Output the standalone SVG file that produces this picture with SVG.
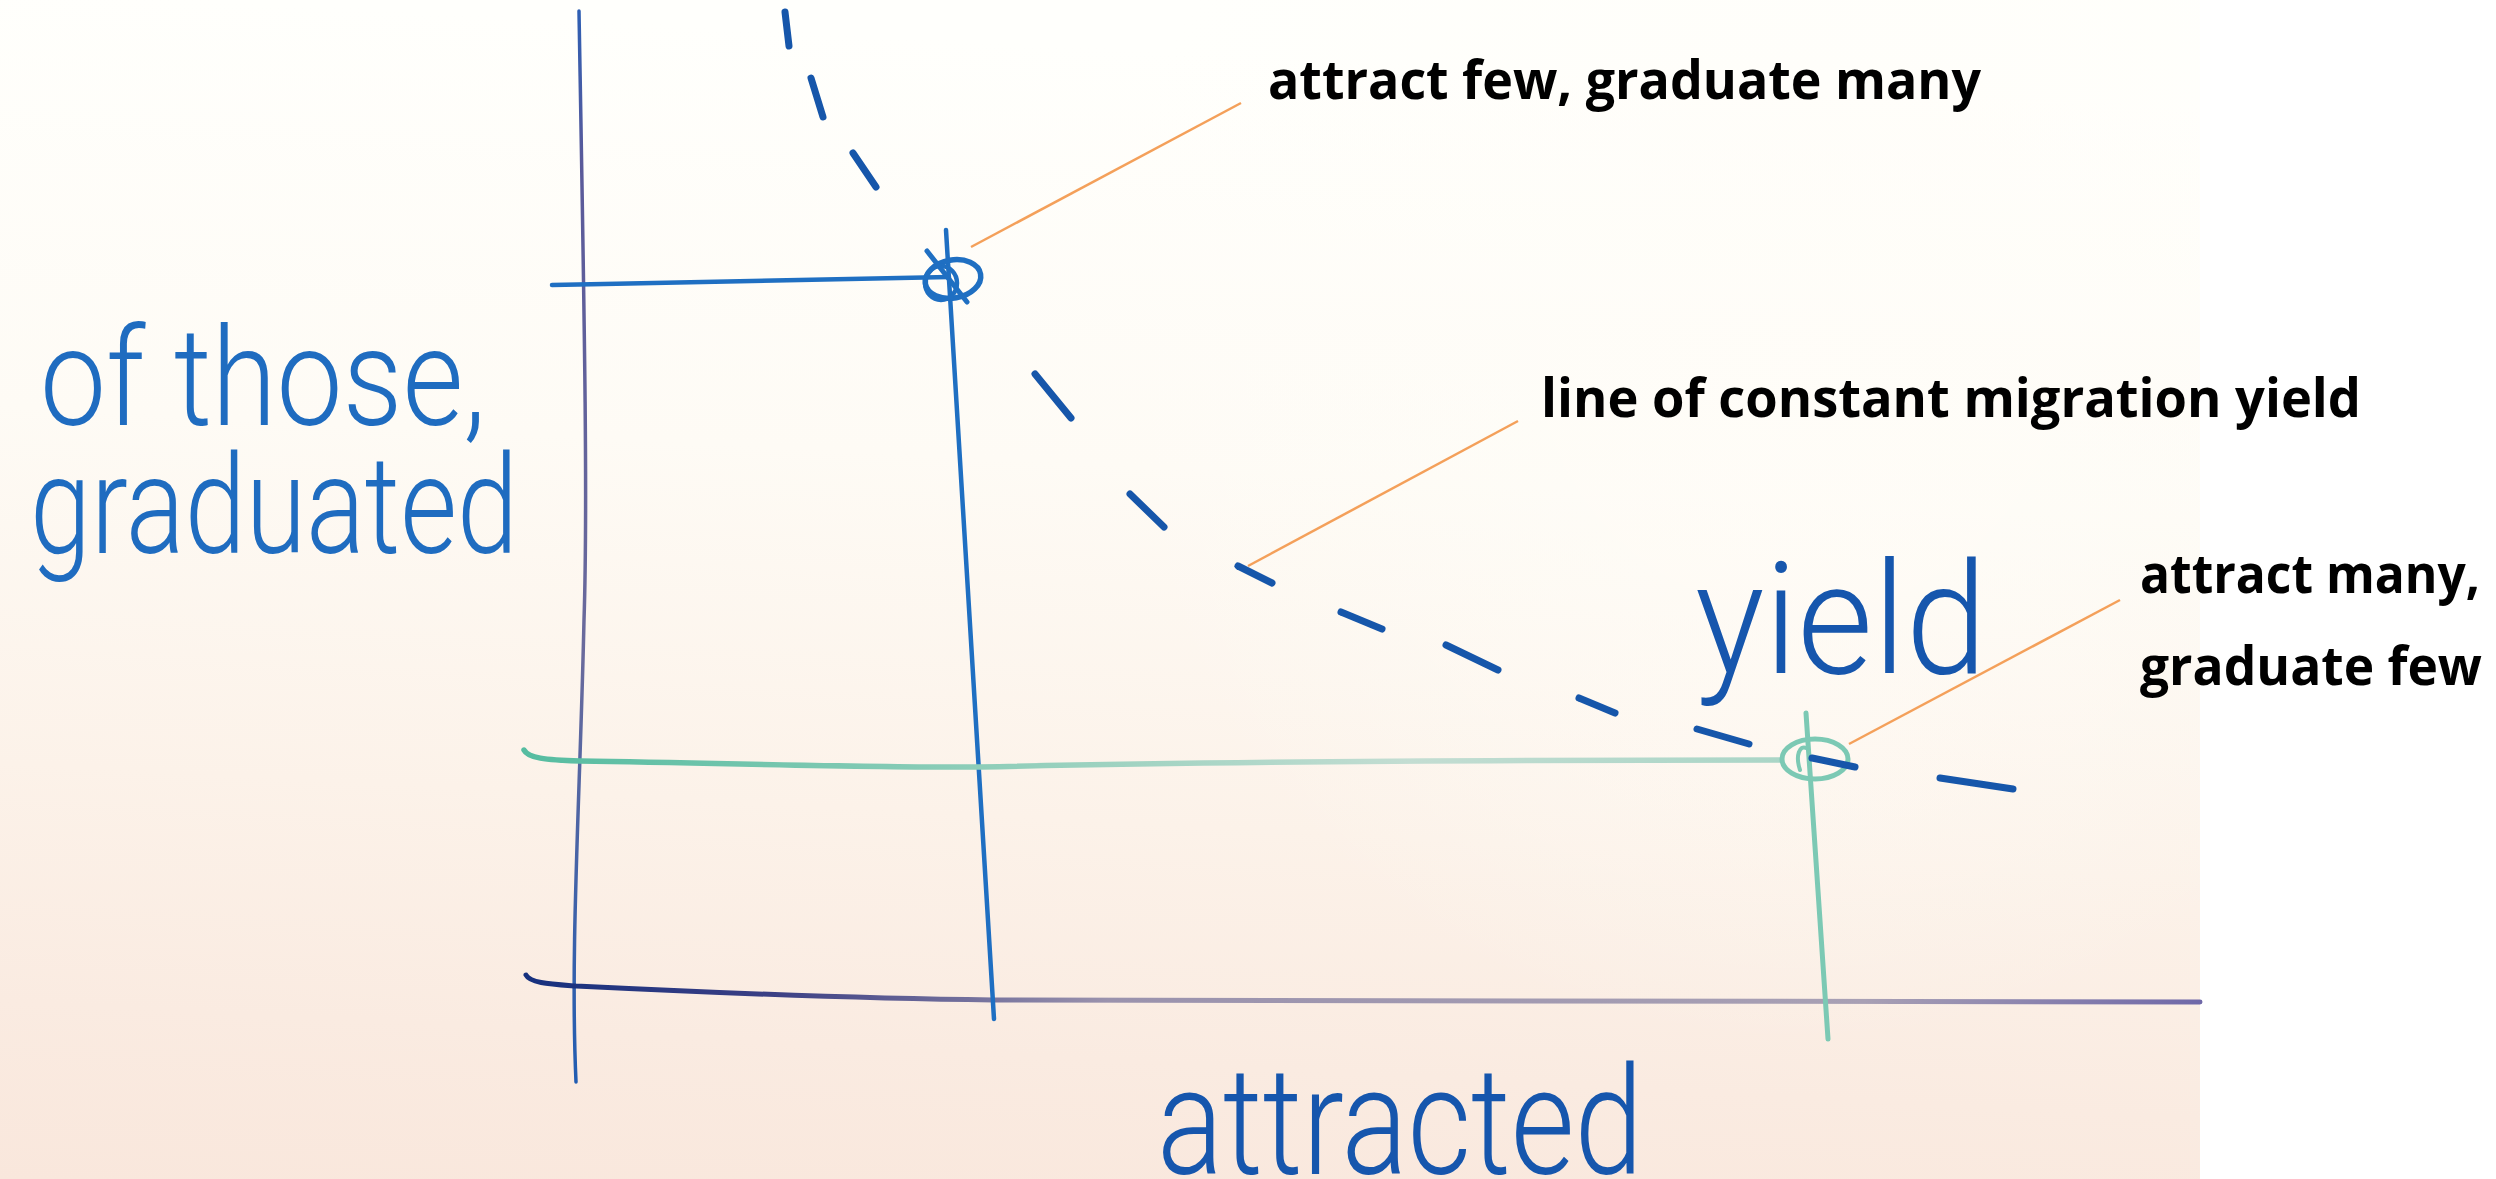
<svg xmlns="http://www.w3.org/2000/svg" width="2496" height="1179" viewBox="0 0 2496 1179">
  <defs>
    <linearGradient id="paper" x1="0.1" y1="0" x2="0" y2="1">
      <stop offset="0" stop-color="#fffffc"/>
      <stop offset="0.35" stop-color="#fefbf5"/>
      <stop offset="0.65" stop-color="#fcf2e9"/>
      <stop offset="0.85" stop-color="#faebe1"/>
      <stop offset="1" stop-color="#f9e7dc"/>
    </linearGradient>
    <radialGradient id="glow" cx="1800" cy="350" r="700" gradientUnits="userSpaceOnUse">
      <stop offset="0" stop-color="#fffdf8" stop-opacity="0.8"/>
      <stop offset="1" stop-color="#fffdf8" stop-opacity="0"/>
    </radialGradient>
    <linearGradient id="yaxisInk" gradientUnits="userSpaceOnUse" x1="0" y1="0" x2="0" y2="1090">
      <stop offset="0" stop-color="#2b5fb5"/>
      <stop offset="0.15" stop-color="#5a5a9a"/>
      <stop offset="0.6" stop-color="#6a6a9c"/>
      <stop offset="1" stop-color="#1f5cb2"/>
    </linearGradient>
    <linearGradient id="xaxisInk" gradientUnits="userSpaceOnUse" x1="520" y1="0" x2="2200" y2="0">
      <stop offset="0" stop-color="#15307e"/>
      <stop offset="0.15" stop-color="#3b3f84"/>
      <stop offset="0.35" stop-color="#9a92ad"/>
      <stop offset="0.8" stop-color="#a8a0b4"/>
      <stop offset="1" stop-color="#6f68a8"/>
    </linearGradient>
    <linearGradient id="greenInk" gradientUnits="userSpaceOnUse" x1="520" y1="0" x2="1790" y2="0">
      <stop offset="0" stop-color="#55bca0"/>
      <stop offset="0.35" stop-color="#8ccdb8"/>
      <stop offset="0.7" stop-color="#c3ddd2"/>
      <stop offset="1" stop-color="#a9d5c6"/>
    </linearGradient>
    <style>
      .dash { stroke:#1656aa; stroke-width:7; stroke-linecap:round; fill:none; }
      .ink { stroke:#1f6fc2; fill:none; stroke-linecap:round; stroke-linejoin:round; }
      .green { stroke:#7cc9b4; fill:none; stroke-linecap:round; }
      .leader { stroke:#f4a05a; stroke-width:2.5; fill:none; }
      .label { font-family:"Open Sans","Liberation Sans",sans-serif; font-weight:700; font-size:54px; fill:#000000; }
      .hand { font-family:"Roboto","Liberation Sans",sans-serif; font-weight:300; }
    </style>
  </defs>

  <rect x="0" y="0" width="2496" height="1179" fill="#ffffff"/>
  <g id="photo-background">
    <rect x="0" y="0" width="2200" height="1179" fill="url(#paper)"/>
    <rect x="0" y="0" width="2200" height="1179" fill="url(#glow)"/>
  </g>

  <g id="axes">
    <path d="M579,11 C584,300 588,500 584,620 C580,800 570,950 576,1082" stroke="url(#yaxisInk)" stroke-width="3.5" fill="none" stroke-linecap="round"/>
    <path d="M526,975 C530,983 550,984 576,986 C760,995 900,999 993,1000 C1400,1004 1800,1004 2200,1002" stroke="url(#xaxisInk)" stroke-width="5" fill="none" stroke-linecap="round"/>
  </g>

  <g id="point-attract-few">
    <path class="ink" d="M552,285 C700,282 860,278 949,277" stroke-width="4.5"/>
    <path class="ink" d="M946,230 L994,1019" stroke-width="4.5" stroke="#1e67bb"/>
    <ellipse class="ink" cx="953" cy="279" rx="28" ry="19" transform="rotate(-10 953 279)" stroke-width="5.5"/>
    <ellipse class="ink" cx="941" cy="283" rx="16" ry="17" stroke-width="4.5"/>
    <path class="ink" d="M927,251 L967,302" stroke-width="5"/>
  </g>

  <g id="point-attract-many">
    <path d="M524,750 C528,758 545,760 580,761 C760,764 900,768 980,767 C1200,762 1500,760 1780,760" stroke="url(#greenInk)" stroke-width="5.5" fill="none" stroke-linecap="round"/>
    <path class="green" d="M1806,713 L1828,1039" stroke-width="5"/>
    <ellipse class="green" cx="1815" cy="759" rx="33" ry="20" stroke-width="5" stroke="#92d1c1"/>
    <path class="green" d="M1800,770 C1795,755 1800,745 1806,748" stroke-width="4"/>
  </g>

  <g id="constant-yield-line">
    <line class="dash" x1="785" y1="12" x2="789" y2="46"/>
    <line class="dash" x1="811" y1="78" x2="823" y2="117"/>
    <line class="dash" x1="853" y1="153" x2="876" y2="187"/>
    <line class="dash" x1="1035" y1="374" x2="1071" y2="418"/>
    <line class="dash" x1="1130" y1="494" x2="1164" y2="527"/>
    <line class="dash" x1="1238" y1="566" x2="1272" y2="583"/>
    <line class="dash" x1="1341" y1="612" x2="1382" y2="629"/>
    <line class="dash" x1="1446" y1="645" x2="1498" y2="670"/>
    <line class="dash" x1="1579" y1="698" x2="1615" y2="713"/>
    <line class="dash" x1="1697" y1="729" x2="1749" y2="744"/>
    <line class="dash" x1="1812" y1="758" x2="1855" y2="767"/>
    <line class="dash" x1="1940" y1="778" x2="2013" y2="789"/>
  </g>

  <g id="handwriting">
    <text class="hand" x="40" y="0" font-size="112" fill="#1f6cc0" textLength="446" lengthAdjust="spacingAndGlyphs" transform="translate(0,425) scale(1,1.22)">of those,</text>
    <text class="hand" x="30" y="0" font-size="112" fill="#1f6cc0" textLength="488" lengthAdjust="spacingAndGlyphs" transform="translate(0,553) scale(1,1.22)">graduated</text>
    <text class="hand" x="1695" y="0" font-size="128" fill="#1656ad" textLength="292" lengthAdjust="spacingAndGlyphs" transform="translate(0,673) scale(1,1.22)">yield</text>
    <text class="hand" x="1157" y="0" font-size="128" fill="#1656ad" textLength="486" lengthAdjust="spacingAndGlyphs" transform="translate(0,1174) scale(1,1.18)">attracted</text>
  </g>

  <g id="label-attract-few">
    <text class="label" x="1268" y="99" textLength="713" lengthAdjust="spacingAndGlyphs">attract few, graduate many</text>
  </g>
  <g id="label-constant-line">
    <text class="label" x="1541" y="417" textLength="820" lengthAdjust="spacingAndGlyphs">line of constant migration yield</text>
  </g>
  <g id="label-attract-many">
    <text class="label" x="2140" y="593" textLength="340" lengthAdjust="spacingAndGlyphs">attract many,</text>
    <text class="label" x="2140" y="685" textLength="342" lengthAdjust="spacingAndGlyphs">graduate few</text>
  </g>

  <g id="connectors">
    <line class="leader" x1="971" y1="247" x2="1241" y2="103"/>
    <line class="leader" x1="1248" y1="566" x2="1518" y2="421"/>
    <line class="leader" x1="1849" y1="744" x2="2120" y2="600"/>
  </g>
</svg>
